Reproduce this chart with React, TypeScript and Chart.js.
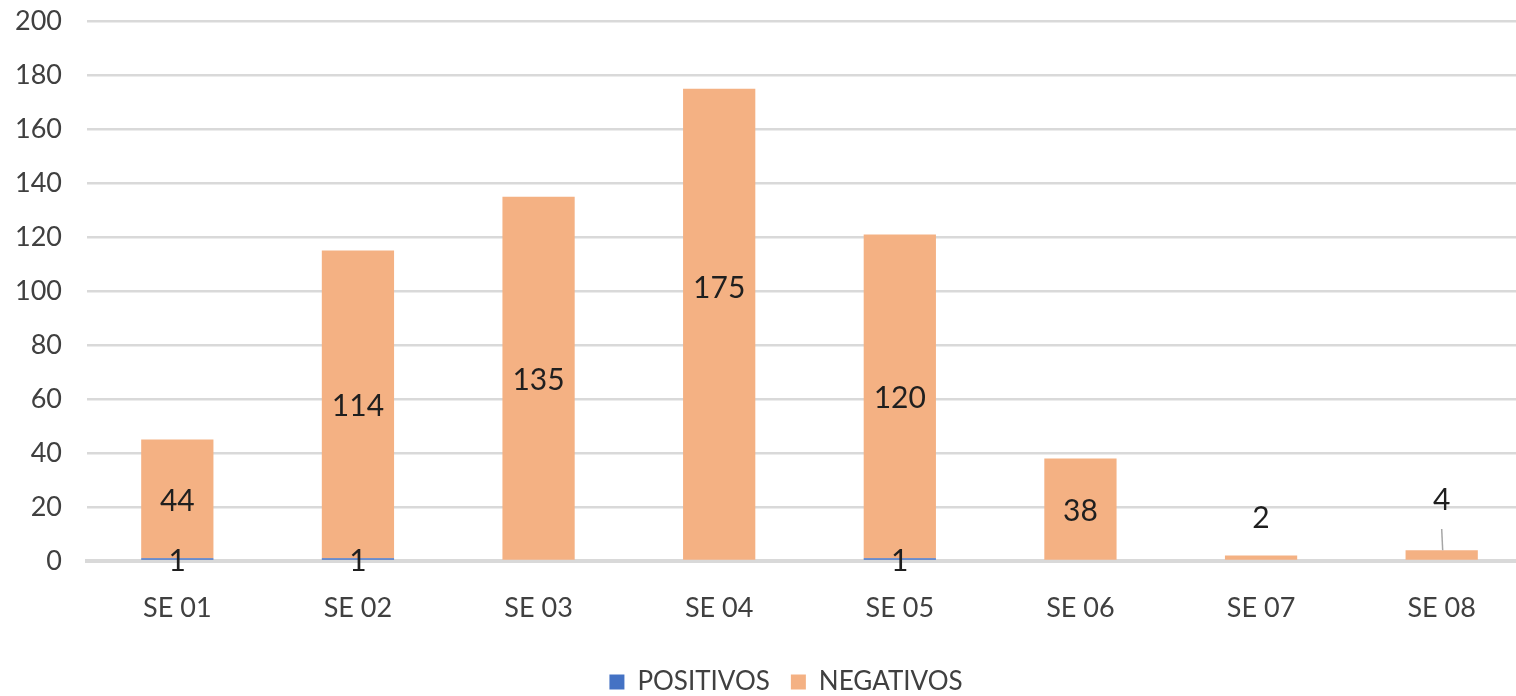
import React, { useEffect, useRef } from "react";
import { Chart, registerables } from "chart.js";

Chart.register(...registerables);

const categories = ["SE 01", "SE 02", "SE 03", "SE 04", "SE 05", "SE 06", "SE 07", "SE 08"];
const positivos = [1, 1, 0, 0, 1, 0, 0, 0];
const negativos = [44, 114, 135, 175, 120, 38, 2, 4];
const yTicks = [0, 20, 40, 60, 80, 100, 120, 140, 160, 180, 200];

const FONT = "Lato, 'Open Sans', sans-serif";

// label adjustments per dataset/index (Excel labels moved by hand)
const labelAdjust: Record<number, Record<number, { dy: number; leader?: boolean }>> = {
  1: { 3: { dy: -38 }, 6: { dy: -41 }, 7: { dy: -57, leader: true } },
};

const dataLabelPlugin = {
  id: "dataLabels",
  afterDatasetsDraw(chart: any) {
    const ctx = chart.ctx;
    ctx.save();
    ctx.font = `30px ${FONT}`;
    ctx.fillStyle = "#1f1f1f";
    ctx.textAlign = "center";
    ctx.textBaseline = "middle";
    chart.data.datasets.forEach((ds: any, di: number) => {
      const meta = chart.getDatasetMeta(di);
      meta.data.forEach((bar: any, i: number) => {
        const v = ds.data[i];
        if (!v) return;
        const top = bar.y;
        const bottom = bar.base;
        let cy = (top + bottom) / 2;
        const adj = labelAdjust[di] && labelAdjust[di][i];
        if (adj) {
          cy += adj.dy;
          if (adj.leader) {
            ctx.save();
            ctx.strokeStyle = "#a6a6a6";
            ctx.lineWidth = 1.5;
            ctx.beginPath();
            ctx.moveTo(bar.x, cy + 31);
            ctx.lineTo(bar.x + 1, top);
            ctx.stroke();
            ctx.restore();
          }
        }
        ctx.fillText(String(v), bar.x, cy + 2);
      });
    });
    ctx.restore();
  },
};

export default function App() {
  const ref = useRef<HTMLCanvasElement | null>(null);
  useEffect(() => {
    if (!ref.current) return;
    const chart = new Chart(ref.current, {
      type: "bar",
      data: {
        labels: categories,
        datasets: [
          {
            label: "POSITIVOS",
            data: positivos,
            backgroundColor: "#4472c4",
            categoryPercentage: 1,
            barPercentage: 0.4,
            stack: "s",
          },
          {
            label: "NEGATIVOS",
            data: negativos,
            backgroundColor: "#f4b183",
            categoryPercentage: 1,
            barPercentage: 0.4,
            stack: "s",
          },
        ],
      },
      options: {
        animation: false,
        responsive: true,
        maintainAspectRatio: false,
        layout: { padding: { top: 0, right: 0, left: 0, bottom: 0 } },
        plugins: {
          tooltip: { enabled: false },
          legend: {
            position: "bottom",
            labels: {
              font: { family: FONT, size: 26 },
              color: "#404040",
              boxWidth: 15,
              boxHeight: 15,
              padding: 21,
            },
          },
        },
        scales: {
          x: {
            stacked: true,
            z: 1,
            grid: { display: false, drawTicks: false },
            border: { display: true, color: "#d9d9d9", width: 4 },
            ticks: {
              font: { family: FONT, size: 27 },
              color: "#404040",
              padding: 31,
            },
            afterFit: (s: any) => {
              s.height = 87;
            },
          },
          y: {
            stacked: true,
            min: 0,
            max: 200,
            afterBuildTicks: (s: any) => {
              s.ticks = yTicks.map((v) => ({ value: v }));
            },
            grid: { color: "#d9d9d9", lineWidth: 2.5, drawTicks: false },
            border: { display: false },
            ticks: {
              font: { family: FONT, size: 27 },
              color: "#404040",
              padding: 25,
            },
            afterFit: (s: any) => {
              s.width = 87;
            },
          },
          yRight: {
            position: "right",
            display: true,
            min: 0,
            max: 200,
            grid: { display: false, drawTicks: false },
            border: { display: false },
            ticks: { display: false },
            afterFit: (s: any) => {
              s.width = 40;
            },
          },
        },
      },
      plugins: [dataLabelPlugin],
    });
    return () => chart.destroy();
  }, []);
  return (
    <div style={{ position: "absolute", left: 0, top: 0, width: 1516, height: 696, overflow: "hidden", background: "#fff" }}>
      <div style={{ position: "absolute", left: 0, top: -20, width: 1572, height: 725 }}>
        <canvas ref={ref} />
      </div>
    </div>
  );
}
